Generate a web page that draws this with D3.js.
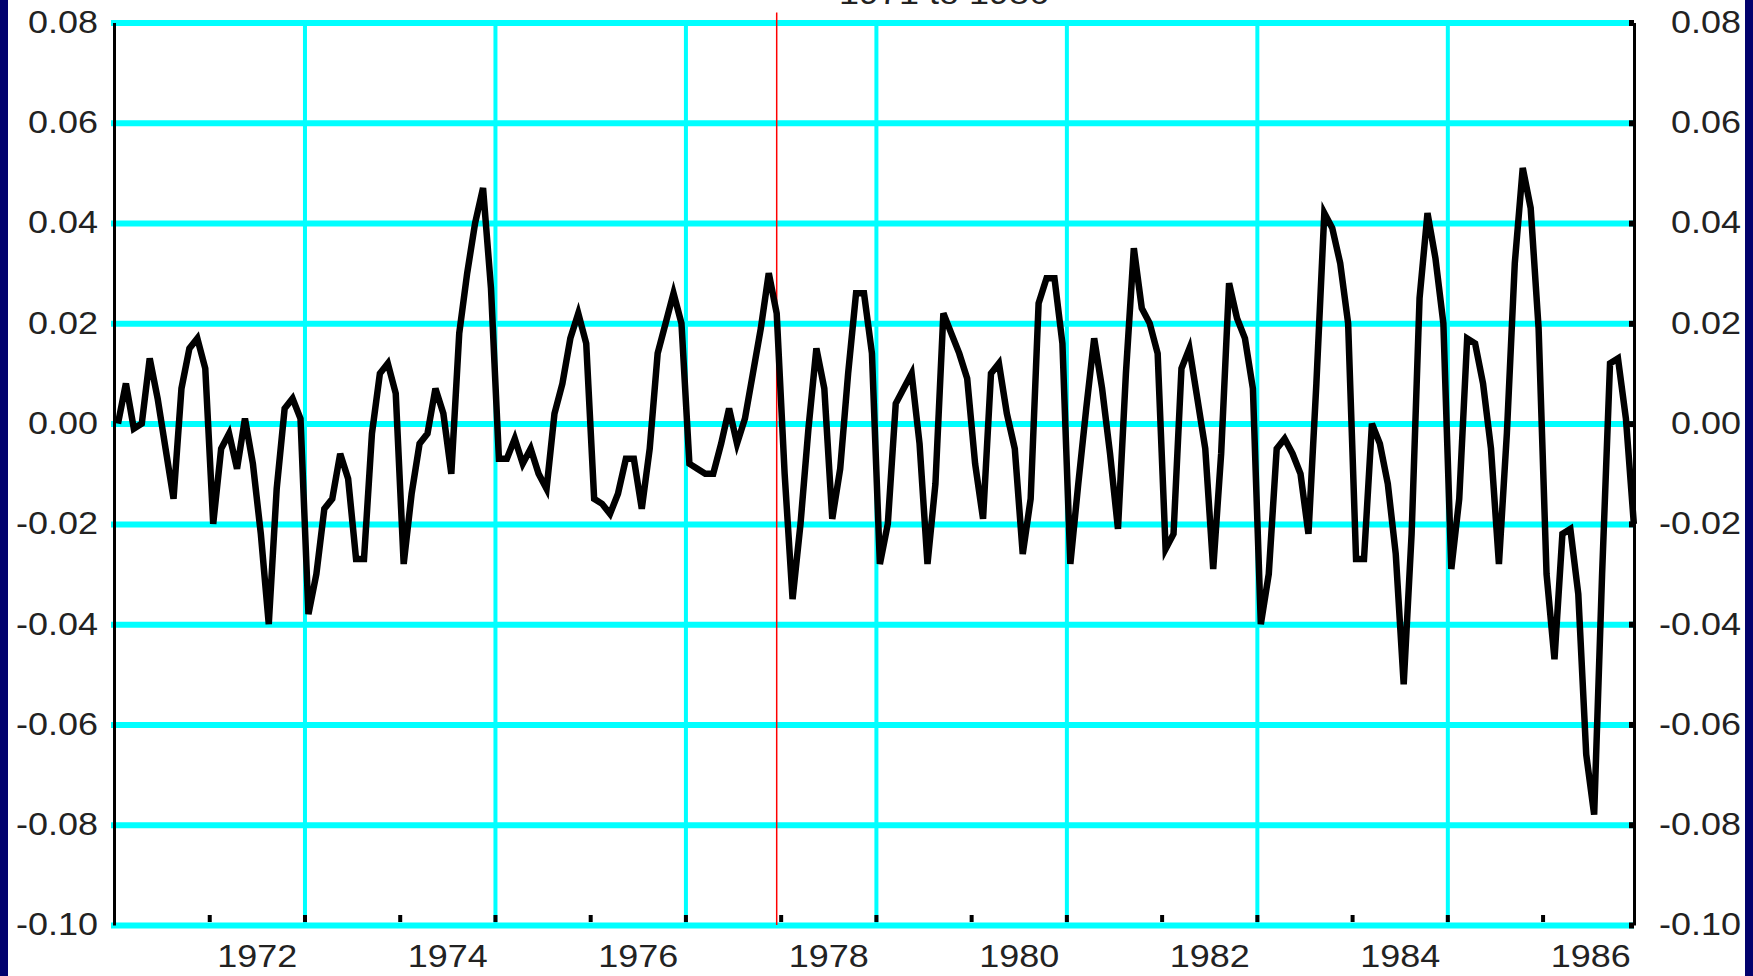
<!DOCTYPE html>
<html>
<head>
<meta charset="utf-8">
<script src="https://cdn.jsdelivr.net/npm/d3@7"></script>
<style>
  html, body { margin: 0; padding: 0; background: #fff; }
  svg { display: block; }
  svg text { font-family: "Liberation Sans", Arial, sans-serif; }
</style>
</head>
<body>
<div id="viz"></div>
<script>
// monthly values, Jan 1971 .. Dec 1986 (one row per year)
var startYear = 1971;
var values = [
   0.000,  0.008, -0.001,  0.000,  0.013,  0.005, -0.005, -0.015,  0.007,  0.015,  0.017,  0.011,
  -0.020, -0.005, -0.002, -0.009,  0.001, -0.008, -0.022, -0.040, -0.013,  0.003,  0.005,  0.001,
  -0.038, -0.030, -0.017, -0.015, -0.006, -0.011, -0.027, -0.027, -0.002,  0.010,  0.012,  0.006,
  -0.028, -0.014, -0.004, -0.002,  0.007,  0.002, -0.010,  0.018,  0.030,  0.040,  0.047,  0.027,
  -0.007, -0.007, -0.003, -0.008, -0.005, -0.010, -0.013,  0.002,  0.008,  0.017,  0.022,  0.016,
  -0.015, -0.016, -0.018, -0.014, -0.007, -0.007, -0.017, -0.005,  0.014,  0.020,  0.026,  0.020,
  -0.008, -0.009, -0.010, -0.010, -0.004,  0.003, -0.004,  0.001,  0.010,  0.019,  0.030,  0.022,
  -0.010, -0.035, -0.020, -0.001,  0.015,  0.007, -0.019, -0.009,  0.010,  0.026,  0.026,  0.014,
  -0.028, -0.020,  0.004,  0.007,  0.010, -0.004, -0.028, -0.012,  0.022,  0.018,  0.014,  0.009,
  -0.008, -0.019,  0.010,  0.012,  0.002, -0.005, -0.026, -0.015,  0.024,  0.029,  0.029,  0.016,
  -0.028, -0.012,  0.003,  0.017,  0.007, -0.006, -0.021,  0.010,  0.035,  0.023,  0.020,  0.014,
  -0.025, -0.022,  0.011,  0.015,  0.005, -0.005, -0.029, -0.006,  0.028,  0.021,  0.017,  0.007,
  -0.040, -0.030, -0.005, -0.003, -0.006, -0.010, -0.022,  0.008,  0.042,  0.039,  0.032,  0.020,
  -0.027, -0.027,  0.000, -0.004, -0.012, -0.026, -0.052, -0.022,  0.025,  0.042,  0.033,  0.020,
  -0.029, -0.015,  0.017,  0.016,  0.008, -0.005, -0.028, -0.002,  0.032,  0.051,  0.043,  0.019,
  -0.030, -0.047, -0.022, -0.021, -0.034, -0.066, -0.078, -0.030,  0.012,  0.013,  0.001, -0.020
];

var yTicks = [0.08, 0.06, 0.04, 0.02, 0.00, -0.02, -0.04, -0.06, -0.08, -0.10];
var yLabels = ["0.08", "0.06", "0.04", "0.02", "0.00", "-0.02", "-0.04", "-0.06", "-0.08", "-0.10"];
var gridYears = [1973, 1975, 1977, 1979, 1981, 1983, 1985];
var tickYears = [1972, 1973, 1974, 1975, 1976, 1977, 1978, 1979, 1980, 1981, 1982, 1983, 1984, 1985, 1986];
var labelYears = [1972, 1974, 1976, 1978, 1980, 1982, 1984, 1986];
var breakYear = 1977, breakMonth = 12;   // red marker line
var title = "1971 to 1986";

var W = 1753, H = 976;
var stretch = 1.16;   // the text in the picture is drawn wide
var fontSize = 31;

var data = values.map(function(v, i) {
    return {t: startYear + (i + 0.5) / 12, v: v};
});

var x = d3.scaleLinear().domain([1971, 1986.96]).range([114, 1634]);
var y = d3.scaleLinear().domain([-0.10, 0.08]).range([925, 22.5]);

var svg = d3.select('#viz').append('svg')
    .attr('width', W)
    .attr('height', H);

svg.append('rect').attr('width', W).attr('height', H).attr('fill', '#fff');
svg.append('rect').attr('x', 0).attr('width', 8).attr('height', H).attr('fill', '#02026e');
svg.append('rect').attr('x', W - 8).attr('width', 8).attr('height', H).attr('fill', '#02026e');

// horizontal cyan grid
var hGrid = svg.append('g')
    .attr('transform', 'translate(' + (x.range()[0] - 3) + ',0)')
    .call(d3.axisLeft(y).tickValues(yTicks).tickFormat('')
        .tickSize(-(x.range()[1] - x.range()[0] + 3)).tickSizeOuter(0));
hGrid.select('.domain').remove();
hGrid.selectAll('line').attr('stroke', '#00ffff').attr('stroke-width', 6);

// vertical cyan grid
var vGrid = svg.append('g')
    .attr('transform', 'translate(0,' + y.range()[0] + ')')
    .call(d3.axisBottom(x).tickValues(gridYears).tickFormat('')
        .tickSize(-(y.range()[0] - y.range()[1])).tickSizeOuter(0));
vGrid.select('.domain').remove();
vGrid.selectAll('line').attr('stroke', '#00ffff').attr('stroke-width', 4);

// small black year ticks on the bottom line
var bTicks = svg.append('g')
    .attr('transform', 'translate(0,' + (y.range()[0] - 3) + ')')
    .call(d3.axisBottom(x).tickValues(tickYears).tickFormat('').tickSize(-7).tickSizeOuter(0));
bTicks.select('.domain').remove();
bTicks.selectAll('line').attr('stroke', '#000').attr('stroke-width', 4);

// left axis
var yAxisL = svg.append('g')
    .attr('transform', 'translate(' + x.range()[0] + ',0)')
    .call(d3.axisLeft(y).tickValues(yTicks)
        .tickFormat(function(d, i) { return yLabels[i]; })
        .tickSize(0).tickSizeOuter(0));
yAxisL.attr('font-size', fontSize).attr('font-family', null).attr('color', '#000');
yAxisL.select('.domain').attr('stroke-width', 3);
yAxisL.selectAll('text')
    .attr('fill', '#222')
    .attr('x', -16 / stretch)
    .attr('transform', 'scale(' + stretch + ',1)');

// right axis, labels right-aligned near the page edge
var yAxisR = svg.append('g')
    .attr('transform', 'translate(' + x.range()[1] + ',0)')
    .call(d3.axisRight(y).tickValues(yTicks)
        .tickFormat(function(d, i) { return yLabels[i]; })
        .tickSize(-5).tickSizeOuter(0));
yAxisR.attr('font-size', fontSize).attr('font-family', null).attr('color', '#000');
yAxisR.select('.domain').attr('stroke-width', 3);
yAxisR.selectAll('line').attr('stroke-width', 6);
yAxisR.selectAll('text')
    .attr('fill', '#222')
    .attr('text-anchor', 'end')
    .attr('x', 107 / stretch)
    .attr('transform', 'scale(' + stretch + ',1)');

// year labels, centred on each labelled year
var xAxis = svg.append('g')
    .attr('transform', 'translate(0,' + y.range()[0] + ')')
    .call(d3.axisBottom(x).tickValues(labelYears.map(function(d) { return d + 0.5; }))
        .tickFormat(function(d, i) { return String(labelYears[i]); })
        .tickSize(0).tickSizeOuter(0));
xAxis.attr('font-size', fontSize).attr('font-family', null);
xAxis.select('.domain').remove();
xAxis.selectAll('text')
    .attr('fill', '#222')
    .attr('y', 42).attr('dy', 0)
    .attr('transform', 'scale(' + stretch + ',1)');

// red marker
var bx = x(breakYear + (breakMonth - 0.5) / 12);
svg.append('line')
    .attr('x1', bx).attr('x2', bx)
    .attr('y1', y.range()[1] - 10).attr('y2', y.range()[0])
    .attr('stroke', '#ff0000').attr('stroke-width', 1.5);

// series
var line = d3.line()
    .x(function(d) { return x(d.t); })
    .y(function(d) { return y(d.v); });

svg.append('path')
    .datum(data)
    .attr('d', line)
    .attr('fill', 'none')
    .attr('stroke', '#000')
    .attr('stroke-width', 6.5)
    .attr('stroke-linejoin', 'miter')
    .attr('stroke-miterlimit', 4);

// title, mostly cut off at the top edge as in the source picture
svg.append('text')
    .attr('transform', 'translate(944,4) scale(' + stretch + ',1)')
    .attr('text-anchor', 'middle')
    .attr('font-size', fontSize)
    .attr('fill', '#222')
    .text(title);
</script>
</body>
</html>
